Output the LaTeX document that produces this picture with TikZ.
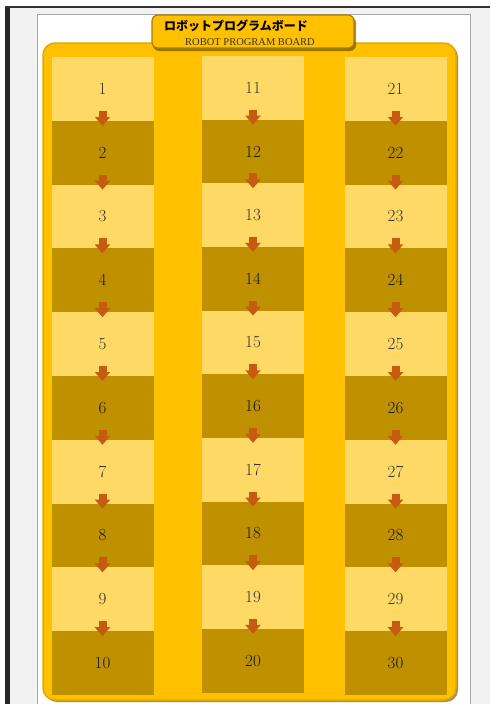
\documentclass[tikz,border=0pt]{standalone}
\usepackage{fontspec}
\newfontfamily\jpfont{Noto Sans CJK JP}
\newfontfamily\seriffont{Liberation Serif}
\usepackage{tikz}
\usetikzlibrary{arrows.meta,positioning}
\definecolor{boardgold}{HTML}{FFC000}
\definecolor{boardedge}{HTML}{E0A800}
\definecolor{lightcellc}{HTML}{FFD966}
\definecolor{darkcellc}{HTML}{BF9000}
\definecolor{arrowc}{HTML}{C55A11}

\begin{document}
\begin{tikzpicture}[
    x=1pt, y=-1pt,
    lightcell/.style={fill=lightcellc, minimum width=102pt, inner sep=0pt, outer sep=0pt, text=black!80, font=\fontsize{17}{20}\selectfont},
    darkcell/.style={lightcell, fill=darkcellc, text=black!90},
    flow/.style={-{Triangle[width=15pt,length=9pt]}, line width=8pt, draw=arrowc}
]
\useasboundingbox (0,0) rectangle (490,704);
% window and page
\fill[white] (0,0) rectangle (490,704);
\fill[black!5] (10,7) rectangle (490,704);
\fill[black!85] (5,7) rectangle (10,704);
\draw[black!80, line width=1.2pt] (5,7) -- (490,7);
\fill[white] (37,14) rectangle (470,704);
\draw[black!35] (37,704) -- (37,14) -- (470,14) -- (470,704);
% board
\fill[black!60!boardedge, opacity=.6, rounded corners=12pt] (45,45) rectangle (458,702);
\draw[boardedge, fill=boardgold, line width=1.5pt, rounded corners=12pt] (43,43) rectangle (456,700);
% title tab
\fill[black!60!boardedge, opacity=.6, rounded corners=6pt] (153,17) rectangle (356,51);
\draw[black!25!boardedge, fill=boardgold, line width=1.2pt, rounded corners=6pt] (152,15) rectangle (354,48);
\node[font=\jpfont\bfseries\fontsize{12}{14}\selectfont] (title) at (236,26) {ロボットプログラムボード};
\node[font=\seriffont\fontsize{10.5}{12}\selectfont, text=black!80] (subtitle) at (250,42) {ROBOT PROGRAM BOARD};
% program cells
\foreach \x/\top/\h [count=\k from 0] in {102.5/57/63.8, 253/56/63.65, 395.5/57/63.8} {
  \pgfmathtruncatemacro{\first}{10*\k+1}
  \node[lightcell, minimum height=\h pt, anchor=north] (c\first) at (\x,\top) {\first};
  \foreach \r in {2,...,10} {
    \pgfmathtruncatemacro{\n}{10*\k+\r}
    \pgfmathtruncatemacro{\p}{\n-1}
    \ifodd\r \def\cellkind{lightcell}\else\def\cellkind{darkcell}\fi
    \node[\cellkind, minimum height=\h pt, below=0pt of c\p] (c\n) {\n};
    \draw[flow] ([yshift=10pt]c\p.south) -- ([yshift=-5pt]c\n.north);
  }
}
\end{tikzpicture}
\end{document}
